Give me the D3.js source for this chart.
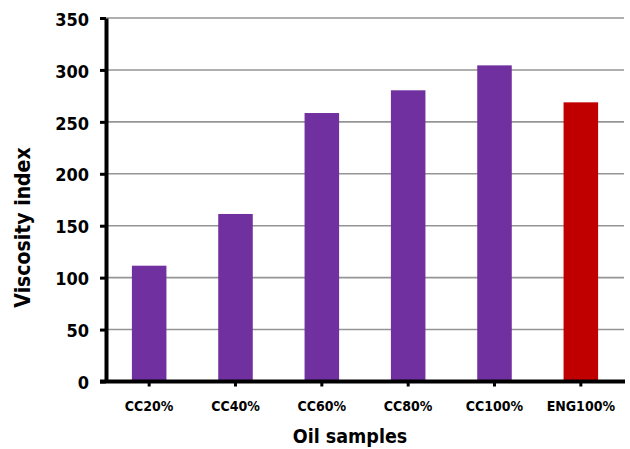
<!DOCTYPE html>
<html>
<head>
<meta charset="utf-8">
<script src="https://cdn.jsdelivr.net/npm/d3@7"></script>
<style>
  html, body { margin: 0; padding: 0; background: #fff; }
  svg { display: block; }
  text { font-family: "DejaVu Sans Condensed", "DejaVu Sans", sans-serif; font-stretch: condensed; font-weight: bold; fill: #000; }
</style>
</head>
<body>
<script>
const categories = ["CC20%", "CC40%", "CC60%", "CC80%", "CC100%", "ENG100%"];
const values = [111.5, 161.3, 258.5, 280.4, 304.4, 268.8];
const barColors = ["#7030A0", "#7030A0", "#7030A0", "#7030A0", "#7030A0", "#C00000"];
const yTicks = [0, 50, 100, 150, 200, 250, 300, 350];
const yTitle = "Viscosity index";
const xTitle = "Oil samples";

const W = 630, H = 449;
const mLeft = 106, mRight = 624, mTop = 18, mBottom = 381.5;

const svg = d3.select("body").append("svg").attr("width", W).attr("height", H);

const x = d3.scaleBand().domain(categories).range([mLeft, mRight]).paddingInner(0.6).paddingOuter(0.3);
const y = d3.scaleLinear().domain([0, 350]).range([mBottom, mTop]);

// gridlines
svg.append("g")
  .selectAll("line").data(yTicks.filter(d => d > 0)).join("line")
  .attr("x1", mLeft).attr("x2", mRight)
  .attr("y1", d => y(d)).attr("y2", d => y(d))
  .attr("stroke", "#959595").attr("stroke-width", 1.6);

// bars
svg.append("g")
  .selectAll("rect").data(categories).join("rect")
  .attr("x", d => x(d))
  .attr("width", x.bandwidth())
  .attr("y", (d, i) => y(values[i]))
  .attr("height", (d, i) => mBottom - y(values[i]))
  .attr("fill", (d, i) => barColors[i]);

// y axis
const yAxis = svg.append("g").attr("transform", `translate(${mLeft},0)`)
  .call(d3.axisLeft(y).tickValues(yTicks).tickSize(6).tickSizeOuter(0).tickPadding(11));
yAxis.select(".domain").attr("stroke", "#000").attr("stroke-width", 4);
yAxis.selectAll(".tick line").attr("stroke", "#000").attr("stroke-width", 3);
yAxis.selectAll(".tick text").attr("font-size", 18).attr("dy", "0.4em")
  .style("font-family", '"DejaVu Sans Condensed", "DejaVu Sans", sans-serif').style("font-weight", "bold");

// x axis
const xAxis = svg.append("g").attr("transform", `translate(0,${mBottom})`)
  .call(d3.axisBottom(x).tickSize(5).tickSizeOuter(0).tickPadding(15));
xAxis.select(".domain").attr("stroke", "#000").attr("stroke-width", 4)
  .attr("d", `M${mLeft - 6},0H${mRight + 1}`);
xAxis.selectAll(".tick line").attr("stroke", "#000").attr("stroke-width", 3);
xAxis.selectAll(".tick text").attr("font-size", 14)
  .style("font-family", '"DejaVu Sans Condensed", "DejaVu Sans", sans-serif').style("font-weight", "bold");

// titles
svg.append("text")
  .attr("transform", `translate(30,${(145 + 310) / 2}) rotate(-90)`)
  .attr("text-anchor", "middle").attr("font-size", 21)
  .text(yTitle);

svg.append("text")
  .attr("x", 350).attr("y", 443)
  .attr("text-anchor", "middle").attr("font-size", 19.5)
  .text(xTitle);
</script>
</body>
</html>
